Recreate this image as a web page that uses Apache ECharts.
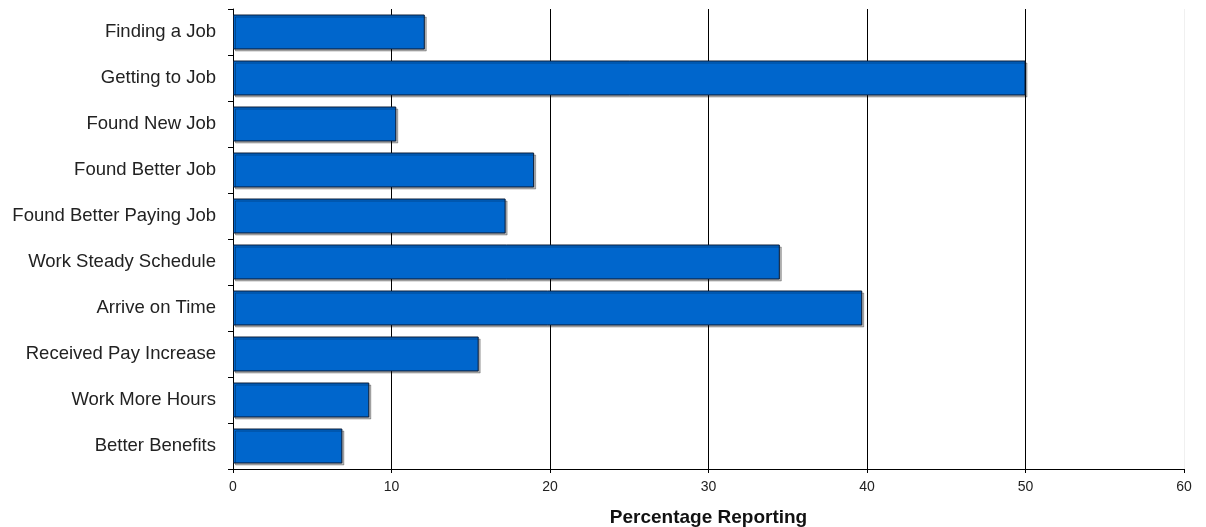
<!DOCTYPE html>
<html>
<head>
<meta charset="utf-8">
<script src="https://cdn.jsdelivr.net/npm/echarts@6/dist/echarts.min.js"></script>
<style>
  html, body { margin: 0; padding: 0; background: #fff; overflow: hidden; }
  #chart { width: 1206px; height: 527px; }
</style>
</head>
<body>
<div id="chart"></div>
<script>
// Share of respondents reporting each job-related outcome
const categories = [
  'Finding a Job',
  'Getting to Job',
  'Found New Job',
  'Found Better Job',
  'Found Better Paying Job',
  'Work Steady Schedule',
  'Arrive on Time',
  'Received Pay Increase',
  'Work More Hours',
  'Better Benefits'
];
const percentReporting = [12.1, 50.0, 10.3, 19.0, 17.2, 34.5, 39.7, 15.5, 8.6, 6.9];
const axisTitle = 'Percentage Reporting';
const xMin = 0, xMax = 60, xStep = 10;

const chart = echarts.init(document.getElementById('chart'), null, { renderer: 'canvas' });

chart.setOption({
  animation: false,
  backgroundColor: '#ffffff',
  grid: {
    left: 233, right: 22, top: 9, bottom: 58,
    containLabel: false,
    outerBoundsMode: 'none'
  },
  xAxis: {
    type: 'value',
    min: xMin,
    max: xMax,
    interval: xStep,
    name: axisTitle,
    nameLocation: 'middle',
    nameGap: 39,
    nameTextStyle: {
      fontFamily: 'Liberation Sans, Arial, sans-serif',
      fontSize: 19,
      fontWeight: 'bold',
      color: '#111'
    },
    axisLine: { show: true, lineStyle: { color: '#000', width: 1 } },
    axisTick: { show: true, length: 4, lineStyle: { color: '#000' } },
    axisLabel: {
      margin: 11,
      fontFamily: 'Liberation Sans, Arial, sans-serif',
      fontSize: 14,
      color: '#222'
    },
    splitLine: {
      show: true,
      lineStyle: {
        color: ['#000', '#000', '#000', '#000', '#000', '#000', '#f0f0f0'],
        width: 1
      }
    }
  },
  yAxis: {
    type: 'category',
    data: categories,
    inverse: true,
    axisLine: { show: true, lineStyle: { color: '#000', width: 1 } },
    axisTick: { show: true, length: 5, alignWithLabel: false, lineStyle: { color: '#000' } },
    axisLabel: {
      margin: 17,
      fontFamily: 'Liberation Sans, Arial, sans-serif',
      fontSize: 18.5,
      color: '#222'
    },
    splitLine: { show: false }
  },
  series: [{
    type: 'bar',
    data: percentReporting,
    barCategoryGap: '24%',
    itemStyle: {
      color: '#0066cc',
      borderColor: '#0a1a33',
      borderWidth: 1,
      shadowColor: 'rgba(0,0,0,0.28)',
      shadowOffsetX: 2,
      shadowOffsetY: 2,
      shadowBlur: 0
    }
  }]
});
</script>
</body>
</html>
